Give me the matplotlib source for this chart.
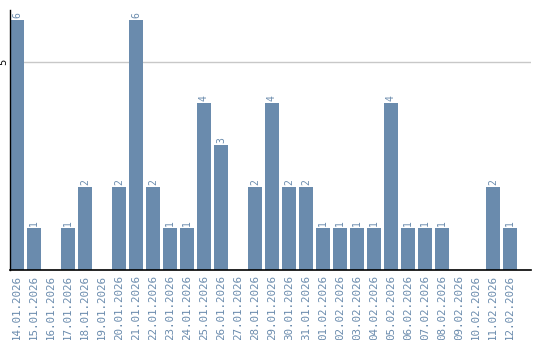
import matplotlib
matplotlib.use("Agg")
import matplotlib.pyplot as plt
import numpy as np

# ----------------------------- data ------------------------------------

dates = [
    "14.01.2026", "15.01.2026", "16.01.2026", "17.01.2026", "18.01.2026",
    "19.01.2026", "20.01.2026", "21.01.2026", "22.01.2026", "23.01.2026",
    "24.01.2026", "25.01.2026", "26.01.2026", "27.01.2026", "28.01.2026",
    "29.01.2026", "30.01.2026", "31.01.2026", "01.02.2026", "02.02.2026",
    "03.02.2026", "04.02.2026", "05.02.2026", "06.02.2026", "07.02.2026",
    "08.02.2026", "09.02.2026", "10.02.2026", "11.02.2026", "12.02.2026",
]
counts = [6, 1, 0, 1, 2, 0, 2, 6, 2, 1, 1, 4, 3, 0, 2,
          4, 2, 2, 1, 1, 1, 1, 4, 1, 1, 1, 0, 0, 2, 1]

BAR = "#6a8bad"
TXT = "#6a8bad"

# ----------------------------- figure ----------------------------------

fig = plt.figure(figsize=(5.4, 3.4), dpi=100)
ax = fig.add_axes([10 / 540, 1 - 270 / 340, 521 / 540, 260 / 340])

x = np.arange(len(dates))
ax.bar(x, counts, width=0.82, color=BAR, zorder=2)

# value labels above the bars
for xi, c in zip(x, counts):
    if c > 0:
        ax.text(xi, c + 0.05, str(c), rotation=90, ha="center", va="bottom",
                fontsize=7, color=TXT, family="DejaVu Sans Mono")

ax.set_xlim(-0.41, 30.24)
ax.set_ylim(0, 6.24)
ax.set_yticks([5])
ax.set_yticklabels(["5"], rotation=90, va="center", fontsize=7)
ax.axhline(5, color="#c8c8c8", lw=1, zorder=1)

ax.set_xticks(x)
ax.set_xticklabels(dates, rotation=90, fontsize=7.8, color=TXT,
                   family="DejaVu Sans Mono")
ax.tick_params(axis="both", length=0, pad=3.5)
ax.tick_params(axis="y", pad=1)

for side in ("top", "right"):
    ax.spines[side].set_visible(False)
ax.spines["left"].set_linewidth(1)
ax.spines["bottom"].set_linewidth(1.2)

fig.savefig("out.png", dpi=100)
